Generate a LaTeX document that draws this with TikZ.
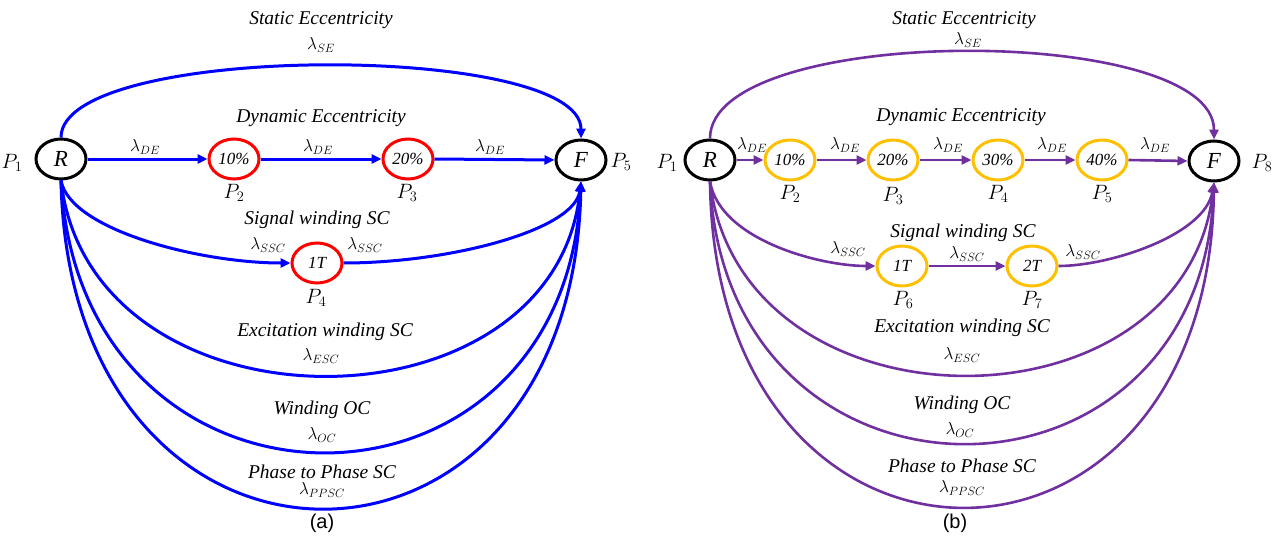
\documentclass[tikz,border=0pt]{standalone}
\usepackage{fontspec}
\setmainfont{Liberation Serif}
\newfontfamily\capfont{Liberation Sans}
\usetikzlibrary{shapes.geometric,arrows.meta}
\definecolor{pblue}{RGB}{0,0,255}
\definecolor{pred}{RGB}{255,0,0}
\definecolor{ppurple}{RGB}{112,48,160}
\definecolor{pgold}{RGB}{255,192,0}
\tikzset{
  state/.style={ellipse,draw,line width=3pt,minimum width=50pt,minimum height=40pt,inner sep=0pt,
                font=\fontsize{23}{25}\selectfont\itshape},
  endstate/.style={state,draw=black},
  pctA/.style={state,draw=pred,font=\fontsize{17}{19}\selectfont\itshape},
  pctB/.style={state,draw=pgold,font=\fontsize{17}{19}\selectfont\itshape},
  flowA/.style={draw=pblue,line width=3pt,-{Triangle[length=10pt,width=9pt]}},
  flowB/.style={draw=ppurple,line width=2.6pt,-{Triangle[length=10pt,width=9pt]}},
  lbl/.style={font=\fontsize{19.5}{21}\selectfont\itshape,inner sep=0pt},
  rate/.style={font=\fontsize{18.5}{20}\selectfont,inner sep=0pt},
  plab/.style={font=\fontsize{21}{23}\selectfont,inner sep=0pt},
  panelcap/.style={font=\fontsize{20}{22}\selectfont\capfont,inner sep=0pt}
}
\begin{document}
\begin{tikzpicture}[x=1pt,y=-1pt]
\useasboundingbox (0,0) rectangle (1283,538);

% ---------------- panel (a) ----------------
\node[endstate] (Ra) at (61,159) {R};
\node[endstate] (Fa) at (581,160) {F};
\node[pctA] (a10) at (234,159) {10\%};
\node[pctA] (a20) at (408,159) {20\%};
\node[pctA] (a1T) at (317,263) {1T};

\node[plab] (pa1) at (12,163) {$P_1$};
\node[plab] (pa2) at (234,193) {$P_2$};
\node[plab] (pa3) at (407,193) {$P_3$};
\node[plab] (pa4) at (316,298) {$P_4$};
\node[plab] (pa5) at (621,162) {$P_5$};

\draw[flowA] (Ra.east) -- (a10.west);
\draw[flowA] (a10.east) -- (a20.west);
\draw[flowA] (a20.east) -- (Fa.west);
\draw[flowA] (Ra.north) .. controls (61,42) and (581,42) .. (Fa.north);
\draw[flowA] (Ra.south) .. controls (70,230) and (200,263) .. (a1T.west);
\draw[flowA] (a1T.east) .. controls (450,263) and (575,230) .. (Fa.south);
\draw[flowA] (Ra.south) .. controls (90,440) and (555,440) .. (Fa.south);
\draw[flowA] (Ra.south) .. controls (80,542) and (565,542) .. (Fa.south);
\draw[flowA] (Ra.south) .. controls (70,617) and (572,617) .. (Fa.south);

\node[lbl] (ta1) at (321,20) {Static Eccentricity};
\node[rate] (ra1) at (321,45) {$\lambda_{SE}$};
\node[lbl] (ta2) at (321,118) {Dynamic Eccentricity};
\node[rate] (ra2) at (145,147) {$\lambda_{DE}$};
\node[rate] (ra3) at (318,147) {$\lambda_{DE}$};
\node[rate] (ra4) at (490,147) {$\lambda_{DE}$};
\node[lbl] (ta3) at (317,220) {Signal winding SC};
\node[rate] (ra5) at (268,245) {$\lambda_{SSC}$};
\node[rate] (ra6) at (365,245) {$\lambda_{SSC}$};
\node[lbl] (ta4) at (325,332) {Excitation winding SC};
\node[rate] (ra7) at (321,356) {$\lambda_{ESC}$};
\node[lbl] (ta5) at (322,410) {Winding OC};
\node[rate] (ra8) at (322,435) {$\lambda_{OC}$};
\node[lbl] (ta6) at (322,472) {Phase to Phase SC};
\node[rate] (ra9) at (322,490) {$\lambda_{PPSC}$};
\node[panelcap] (capa) at (322,523) {(a)};

% ---------------- panel (b) ----------------
\node[endstate] (Rb) at (710,160) {R};
\node[endstate] (Fb) at (1214,161) {F};
\node[pctB] (b10) at (790,160) {10\%};
\node[pctB] (b20) at (893,160) {20\%};
\node[pctB] (b30) at (998,160) {30\%};
\node[pctB] (b40) at (1102,160) {40\%};
\node[pctB] (b1T) at (902,266) {1T};
\node[pctB] (b2T) at (1032,266) {2T};

\node[plab] (pb1) at (667,163) {$P_1$};
\node[plab] (pb2) at (790,194) {$P_2$};
\node[plab] (pb3) at (893,196) {$P_3$};
\node[plab] (pb4) at (998,194) {$P_4$};
\node[plab] (pb5) at (1102,194) {$P_5$};
\node[plab] (pb6) at (903,300) {$P_6$};
\node[plab] (pb7) at (1032,300) {$P_7$};
\node[plab] (pb8) at (1262,163) {$P_8$};

\draw[flowB] (Rb.east) -- (b10.west);
\draw[flowB] (b10.east) -- (b20.west);
\draw[flowB] (b20.east) -- (b30.west);
\draw[flowB] (b30.east) -- (b40.west);
\draw[flowB] (b40.east) -- (Fb.west);
\draw[flowB] (Rb.north) .. controls (710,23) and (1214,23) .. (Fb.north);
\draw[flowB] (Rb.south) .. controls (720,240) and (820,266) .. (b1T.west);
\draw[flowB] (b1T.east) -- (b2T.west);
\draw[flowB] (b2T.east) .. controls (1110,266) and (1205,235) .. (Fb.south);
\draw[flowB] (Rb.south) .. controls (740,439) and (1185,439) .. (Fb.south);
\draw[flowB] (Rb.south) .. controls (725,530) and (1200,530) .. (Fb.south);
\draw[flowB] (Rb.south) .. controls (715,615) and (1208,615) .. (Fb.south);

\node[lbl] (tb1) at (964,20) {Static Eccentricity};
\node[rate] (rb1) at (968,40) {$\lambda_{SE}$};
\node[lbl] (tb2) at (961,117) {Dynamic Eccentricity};
\node[rate] (rb2) at (752,145) {$\lambda_{DE}$};
\node[rate] (rb3) at (845,145) {$\lambda_{DE}$};
\node[rate] (rb4) at (948,145) {$\lambda_{DE}$};
\node[rate] (rb5) at (1052,145) {$\lambda_{DE}$};
\node[rate] (rb6) at (1155,145) {$\lambda_{DE}$};
\node[lbl] (tb3) at (963,233) {Signal winding SC};
\node[rate] (rb7) at (848,249) {$\lambda_{SSC}$};
\node[rate] (rb8) at (967,254) {$\lambda_{SSC}$};
\node[rate] (rb9) at (1083,252) {$\lambda_{SSC}$};
\node[lbl] (tb4) at (962,328) {Excitation winding SC};
\node[rate] (rb10) at (962,355) {$\lambda_{ESC}$};
\node[lbl] (tb5) at (962,405) {Winding OC};
\node[rate] (rb11) at (960,430) {$\lambda_{OC}$};
\node[lbl] (tb6) at (962,466) {Phase to Phase SC};
\node[rate] (rb12) at (962,488) {$\lambda_{PPSC}$};
\node[panelcap] (capb) at (955,523) {(b)};
\end{tikzpicture}
\end{document}
